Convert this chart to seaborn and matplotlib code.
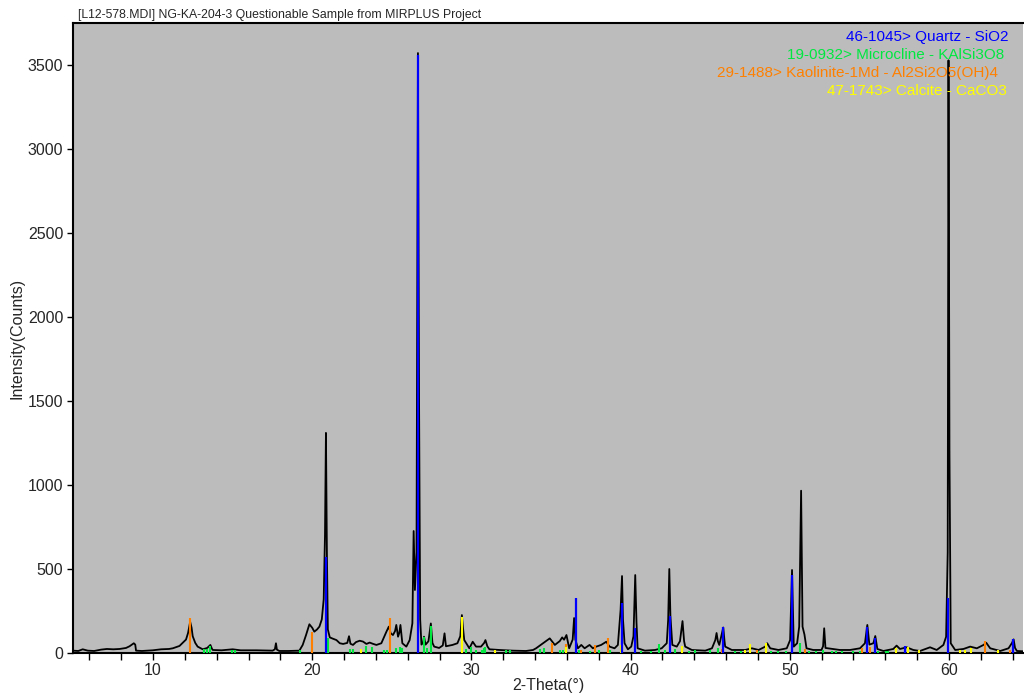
import numpy as np
import pandas as pd
import matplotlib
matplotlib.use('Agg')
import matplotlib.pyplot as plt
import seaborn as sns
from matplotlib.ticker import MultipleLocator

two_theta = [4.96, 5.3, 5.58, 5.9, 6.3, 6.73, 7.1, 7.5, 7.9, 8.3, 8.52, 8.79, 8.88, 8.93, 9.3,
             9.98, 10.5, 11.0, 11.24, 11.66, 12.07, 12.2, 12.33, 12.42, 12.49, 12.65, 12.8, 13.12,
             13.4, 13.6, 13.7, 13.75, 14.3, 15.0, 15.5, 16.5, 17.51, 17.65, 17.72, 17.78, 17.93,
             18.5, 19.19, 19.4, 19.61, 19.82, 20.0, 20.13, 20.3, 20.45, 20.6, 20.72, 20.8, 20.86,
             20.92, 20.98, 21.1, 21.3, 21.52, 21.73, 21.94, 22.2, 22.31, 22.4, 22.56, 22.75, 22.98,
             23.19, 23.4, 23.61, 23.8, 24.03, 24.34, 24.66, 24.81, 24.93, 25.07, 25.2, 25.28, 25.39,
             25.47, 25.54, 25.66, 25.91, 26.12, 26.29, 26.37, 26.45, 26.55, 26.64, 26.71, 26.78,
             26.86, 26.96, 27.02, 27.12, 27.3, 27.45, 27.55, 27.66, 27.97, 28.2, 28.31, 28.4, 28.81,
             29.12, 29.3, 29.4, 29.48, 29.55, 29.87, 30.08, 30.29, 30.6, 30.8, 30.88, 31.0, 31.13,
             31.76, 32.6, 33.43, 33.87, 34.06, 34.5, 34.92, 35.24, 35.55, 35.7, 35.82, 35.97, 36.14,
             36.36, 36.45, 36.53, 36.69, 36.9, 37.11, 37.42, 37.63, 37.84, 38.15, 38.47, 38.68,
             38.99, 39.2, 39.37, 39.46, 39.52, 39.62, 39.83, 40.04, 40.18, 40.29, 40.37, 40.44,
             40.9, 41.53, 41.95, 42.27, 42.36, 42.43, 42.5, 42.62, 42.9, 43.1, 43.26, 43.36, 43.43,
             43.85, 44.69, 45.11, 45.32, 45.4, 45.48, 45.57, 45.74, 45.82, 45.9, 45.94, 46.36, 47.2,
             47.62, 48.04, 48.46, 48.58, 48.77, 49.29, 49.81, 50.02, 50.14, 50.25, 50.46, 50.59,
             50.71, 50.8, 50.92, 51.05, 51.47, 51.99, 52.09, 52.16, 52.24, 53.15, 53.78, 54.41,
             54.72, 54.87, 55.0, 55.25, 55.37, 55.5, 55.88, 56.5, 56.71, 56.92, 57.34, 57.76, 58.18,
             58.81, 59.23, 59.65, 59.82, 59.92, 59.97, 60.03, 60.11, 60.39, 60.91, 61.33, 61.75,
             62.17, 62.34, 62.59, 63.22, 63.74, 63.96, 64.06, 64.15, 64.27, 64.69]
counts = [14, 12, 22, 14, 12, 20, 24, 22, 24, 30, 40, 58, 50, 14, 12,
          16, 22, 24, 28, 42, 80, 120, 186, 150, 100, 60, 38, 22,
          30, 48, 25, 18, 16, 22, 16, 16, 14, 22, 58, 20, 12,
          12, 14, 48, 107, 171, 150, 127, 140, 157, 200, 320, 700, 1310,
          600, 140, 93, 85, 77, 58, 54, 60, 100, 55, 48, 65, 73,
          68, 54, 62, 55, 48, 58, 127, 157, 117, 107, 130, 167, 97,
          120, 167, 58, 38, 77, 177, 726, 375, 600, 3571, 1500, 200,
          50, 60, 97, 50, 70, 176, 60, 38, 30, 45, 117, 40, 48,
          58, 100, 226, 140, 77, 28, 67, 38, 38, 60, 77, 40, 22,
          18, 14, 12, 18, 28, 58, 87, 48, 71, 93, 79, 107, 28,
          80, 208, 80, 28, 48, 28, 48, 28, 38, 48, 67, 38,
          28, 48, 256, 458, 200, 58, 22, 38, 100, 464, 180, 28,
          14, 18, 28, 58, 200, 500, 220, 48, 38, 70, 190, 70, 38,
          18, 14, 28, 77, 119, 70, 48, 117, 152, 70, 38, 18, 18,
          28, 18, 38, 58, 28, 18, 28, 77, 494, 38, 58, 157,
          966, 157, 110, 28, 18, 18, 40, 147, 30, 18, 18, 28,
          58, 167, 50, 58, 101, 24, 12, 24, 44, 24, 34, 18, 12,
          34, 18, 48, 97, 600, 3528, 1200, 58, 18, 24, 38, 28,
          48, 61, 28, 12, 28, 60, 81, 30, 12, 10]

# Reference stick patterns (position, height)
quartz_pos = [20.86, 26.64, 36.54, 39.47, 40.30, 42.45, 45.79, 50.14, 54.87, 55.33, 57.24, 59.96, 64.03]
quartz_h = [570, 3560, 327, 295, 150, 220, 155, 464, 157, 87, 44, 325, 81]

microcline_pos = [13.23, 13.37, 13.58, 14.97, 15.12, 19.24, 20.98, 22.40, 22.56, 23.36, 23.78, 24.49,
                  24.70, 25.29, 25.54, 25.62, 27.02, 27.23, 27.44, 29.64, 29.99, 30.31, 30.69, 30.77,
                  30.83, 32.19, 32.40, 34.33, 34.54, 35.55, 35.76, 36.74, 37.43, 38.00, 38.68, 40.65,
                  41.26, 41.77, 42.14, 42.77, 43.65, 44.02, 44.96, 45.49, 46.53, 46.95, 48.00, 48.83,
                  49.25, 49.78, 50.62, 51.22, 51.64, 52.06, 52.68, 52.89, 53.31, 53.94, 54.40, 55.55,
                  56.03, 56.18]
microcline_h = [25, 25, 40, 20, 20, 20, 87, 22, 22, 42, 38, 18,
                15, 28, 38, 32, 97, 28, 162, 22, 38, 18, 18, 28,
                38, 18, 18, 22, 28, 15, 15, 18, 14, 18, 18, 14,
                14, 52, 18, 22, 14, 18, 18, 28, 14, 14, 14, 14,
                14, 14, 58, 14, 14, 18, 14, 14, 14, 14, 14, 14,
                14, 14]

kaolinite_pos = [12.35, 20.0, 24.87, 35.05, 35.97, 36.87, 37.78, 38.58, 45.72, 47.95, 50.95, 54.53,
                 55.03, 59.94, 62.28, 63.86]
kaolinite_h = [210, 127, 206, 58, 55, 18, 48, 87, 24, 18, 21, 32, 38, 15, 71, 18]

calcite_pos = [23.08, 29.42, 31.5, 35.97, 39.42, 43.22, 47.17, 47.53, 48.53, 56.69, 57.45, 58.1,
               60.72, 61.03, 61.36, 63.1]
calcite_h = [22, 216, 15, 38, 48, 42, 18, 54, 62, 28, 38, 15, 18, 15, 28, 15]

legend_labels = ['46-1045> Quartz - SiO2', '19-0932> Microcline - KAlSi3O8',
                 '29-1488> Kaolinite-1Md - Al2Si2O5(OH)4', '47-1743> Calcite - CaCO3']
phase_colors = ['#0000ff', '#00e840', '#ff8000', '#ffff00']

sns.set_style('white')
plt.rcParams['font.family'] = ['Liberation Sans', 'DejaVu Sans']

fig = plt.figure(figsize=(10.24, 6.93), dpi=100)
ax = fig.add_axes([73 / 1024, 40 / 693, 950 / 1024, 630 / 693])
ax.set_facecolor('#bcbcbc')

df = pd.DataFrame({'two_theta': two_theta, 'counts': counts})
sns.lineplot(data=df, x='two_theta', y='counts', color='black', linewidth=1.3,
             ax=ax, sort=False, zorder=2)

# stick patterns on top of the scan
ax.vlines(microcline_pos, 0, microcline_h, color=phase_colors[1], linewidth=1.5, zorder=3)
ax.vlines(kaolinite_pos, 0, kaolinite_h, color=phase_colors[2], linewidth=1.5, zorder=3)
ax.vlines(calcite_pos, 0, calcite_h, color=phase_colors[3], linewidth=1.5, zorder=3)
ax.vlines(quartz_pos, 0, quartz_h, color=phase_colors[0], linewidth=1.6, zorder=4)

ax.set_xlim(4.97, 64.65)
ax.set_ylim(0, 3750)
ax.xaxis.set_major_locator(MultipleLocator(10))
ax.xaxis.set_minor_locator(MultipleLocator(2))
ax.yaxis.set_major_locator(MultipleLocator(500))
ax.tick_params(axis='x', which='both', direction='out', length=5, width=1, color='black',
               bottom=True, labelsize=11.5, pad=2)
ax.tick_params(axis='y', which='major', direction='out', length=4, width=1, color='black',
               left=True, labelsize=11.5, pad=3)

for side in ['top', 'left', 'bottom']:
    ax.spines[side].set_color('black')
    ax.spines[side].set_linewidth(1.5)
ax.spines['right'].set_visible(False)

ax.set_xlabel('2-Theta(°)', fontsize=11.5, labelpad=0)
ax.set_ylabel('Intensity(Counts)', fontsize=11.5, labelpad=2)

fig.text(78 / 1024, 1 - 15 / 693, '[L12-578.MDI] NG-KA-204-3 Questionable Sample from MIRPLUS Project',
         fontsize=8.8, va='center', ha='left')

# phase legend (right-aligned coloured text)
right_px = [1009, 1004, 998, 1007]
y_px = [37, 55, 73, 91]
for lab, col, rx, yy in zip(legend_labels, phase_colors, right_px, y_px):
    fig.text(rx / 1024, 1 - yy / 693, lab, color=col, fontsize=11, ha='right', va='center')

plt.savefig('out.png', dpi=100)
